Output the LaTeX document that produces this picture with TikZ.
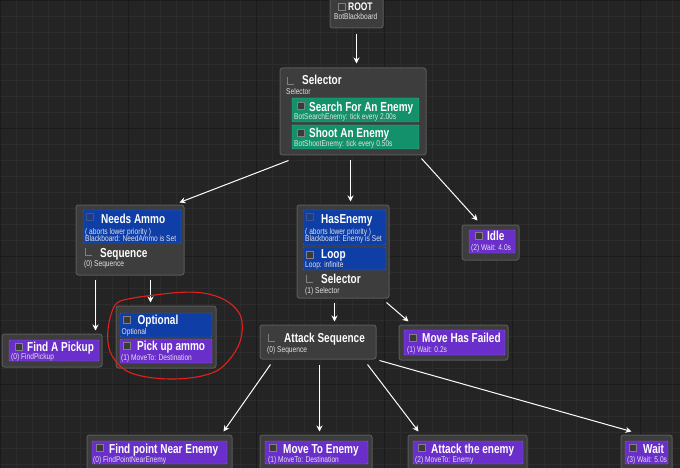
\documentclass[tikz,border=0pt]{standalone}
\usepackage{fontspec}
\setmainfont{Liberation Sans}
\newfontfamily\titlefam[FakeStretch=0.77]{Liberation Sans}
\newfontfamily\subfam[FakeStretch=0.79]{Liberation Sans}
\usetikzlibrary{fit,calc,arrows.meta}
\definecolor{bg}{HTML}{242424}
\definecolor{gridminor}{HTML}{2C2C2C}
\definecolor{gridmajor}{HTML}{1B1B1B}
\definecolor{nodefill}{HTML}{3D3D3D}
\definecolor{nodeline}{HTML}{595959}
\definecolor{cpurple}{HTML}{6A2FCB}
\definecolor{cpurpleline}{HTML}{8A5BDD}
\definecolor{cblue}{HTML}{0F3FA6}
\definecolor{cblueline}{HTML}{2D5FC4}
\definecolor{cgreen}{HTML}{12916A}
\definecolor{cgreenline}{HTML}{35B38A}
\definecolor{subgrey}{HTML}{E2E2E2}
\definecolor{iconfill}{HTML}{3A3A3A}
\definecolor{iconline}{HTML}{808080}
\definecolor{redmark}{HTML}{E3201E}
\tikzset{
  outerbox/.style={draw=nodeline, fill=nodefill, rounded corners=2.5pt, line width=1pt, inner sep=0pt},
  pbox/.style={draw=cpurpleline, fill=cpurple, rounded corners=1pt, line width=0.4pt, inner sep=0pt},
  bbox/.style={draw=cblueline, fill=cblue, rounded corners=1pt, line width=0.4pt, inner sep=0pt},
  gbox/.style={draw=cgreenline, fill=cgreen, rounded corners=1pt, line width=0.4pt, inner sep=0pt},
  icon/.style={fill=iconfill, draw=iconline, line width=0.5pt, minimum size=7pt, inner sep=0pt, anchor=north west},
  licon/.style={minimum size=7pt, inner sep=0pt, anchor=north west,
    path picture={\draw[iconline, line width=1.1pt] (path picture bounding box.north west) -- (path picture bounding box.south west) -- (path picture bounding box.south east);}},
  ttl/.style={font={\titlefam\bfseries\fontsize{13}{14}\selectfont}, text=white, anchor=base west, inner sep=0pt},
  sub/.style={font={\subfam\fontsize{8.4}{9}\selectfont}, text=subgrey, anchor=base west, inner sep=0pt},
  arr/.style={draw=white, line width=1pt, -{Stealth[length=6pt,width=6pt]}},
}
\begin{document}
\begin{tikzpicture}[x=1pt,y=-1pt]
\useasboundingbox (0,0) rectangle (680,468);
\fill[bg] (0,0) rectangle (680,468);
\foreach \gx in {0,16,...,680} \draw[gridminor, line width=0.4pt] (\gx,0) -- (\gx,468);
\foreach \gy in {0,16,...,468} \draw[gridminor, line width=0.4pt] (0,\gy) -- (680,\gy);
\foreach \gx in {0,128,...,680} \draw[gridmajor, line width=0.8pt] (\gx,0) -- (\gx,468);
\foreach \gy in {0,128,...,468} \draw[gridmajor, line width=0.8pt] (0,\gy) -- (680,\gy);

% ROOT
\node[outerbox, fit={(330,-4) (383,28)}] (root) {};
\node[icon] (rooti) at (338,3) {};
\node[ttl, font={\titlefam\bfseries\fontsize{11}{12}\selectfont}] (roott) at (348,10.5) {ROOT};
\node[sub] (roots) at (334,20) {BotBlackboard};

% Selector
\node[outerbox, fit={(280,68) (426,155)}] (sel) {};
\node[licon] (seli) at (287,77) {};
\node[ttl] (selt) at (302,85) {Selector};
\node[sub] (sels) at (286,94.5) {Selector};
\node[gbox, fit={(292,98) (419,122)}] (g1) {};
\node[icon] (g1i) at (297,102) {};
\node[ttl] (g1t) at (309,111.5) {Search For An Enemy};
\node[sub] (g1s) at (294,120) {BotSearchEnemy: tick every 2.00s};
\node[gbox, fit={(292,125) (419,149)}] (g2) {};
\node[icon] (g2i) at (297,129) {};
\node[ttl] (g2t) at (309,137.5) {Shoot An Enemy};
\node[sub] (g2s) at (294,146.5) {BotShootEnemy: tick every 0.50s};

% Needs Ammo / Sequence
\node[outerbox, fit={(76,205) (184,275)}] (needs) {};
\node[bbox, fit={(83,210) (181,243)}] (na) {};
\node[icon, opacity=0.35] (nai) at (86,213) {};
\node[ttl] (nat) at (101,223) {Needs Ammo};
\node[sub] (nas1) at (85,234) {( aborts lower priority )};
\node[sub] (nas2) at (85,241) {Blackboard: NeedAmmo is Set};
\node[licon] (seqi) at (85,248) {};
\node[ttl] (seqt) at (100,257) {Sequence};
\node[sub] (seqs) at (84,266.5) {(0) Sequence};

% HasEnemy / Loop / Selector
\node[outerbox, fit={(297,205) (389,298)}] (has) {};
\node[bbox, fit={(303,210) (386,245)}] (he) {};
\node[icon, opacity=0.35] (hei) at (306,213) {};
\node[ttl] (het) at (321,223.5) {HasEnemy};
\node[sub] (hes1) at (305,234) {( aborts lower priority )};
\node[sub] (hes2) at (305,241) {Blackboard: Enemy is Set};
\node[bbox, fit={(303,247) (386,270)}] (lp) {};
\node[icon] (lpi) at (306,251) {};
\node[ttl] (lpt) at (321,258.5) {Loop};
\node[sub] (lps) at (305,267.5) {Loop: infinite};
\node[licon] (hsi) at (306,275) {};
\node[ttl] (hst) at (321,283.5) {Selector};
\node[sub] (hss) at (305,293) {(1) Selector};

% Idle
\node[outerbox, fit={(462,225) (519,260)}] (idle) {};
\node[pbox, fit={(469,230) (515,253)}] (idp) {};
\node[icon] (idi) at (475,232) {};
\node[ttl] (idt) at (487,240.5) {Idle};
\node[sub] (ids) at (471,250) {(2) Wait: 4.0s};

% Find A Pickup
\node[outerbox, fit={(2,334) (102,367)}] (pick) {};
\node[pbox, fit={(9,340) (99,361)}] (pkp) {};
\node[icon] (pki) at (15,343) {};
\node[ttl] (pkt) at (27,351) {Find A Pickup};
\node[sub] (pks) at (11,359) {(0) FindPickup};

% Optional / Pick up ammo
\node[outerbox, fit={(116,306) (216,368)}] (opt) {};
\node[bbox, fit={(120,313) (212,337)}] (op) {};
\node[icon] (opi) at (123,316) {};
\node[ttl] (optt) at (137.5,324.5) {Optional};
\node[sub] (ops) at (121.5,334) {Optional};
\node[pbox, fit={(120,339) (212,363)}] (pu) {};
\node[icon] (pui) at (123,342) {};
\node[ttl] (put) at (137,350.5) {Pick up ammo};
\node[sub] (pus) at (121,360) {(1) MoveTo: Destination};

% Attack Sequence
\node[outerbox, fit={(260,325) (376,359)}] (atk) {};
\node[licon] (atki) at (268,334) {};
\node[ttl] (atkt) at (284,342.5) {Attack Sequence};
\node[sub] (atks) at (267,352.5) {(0) Sequence};

% Move Has Failed
\node[outerbox, fit={(399,325) (508,360)}] (mhf) {};
\node[pbox, fit={(404,330) (505,355)}] (mhp) {};
\node[icon] (mhi) at (409,334) {};
\node[ttl] (mht) at (422,342.5) {Move Has Failed};
\node[sub] (mhs) at (407,352.5) {(1) Wait: 0.2s};

% Bottom row
\node[outerbox, fit={(87,435) (232,474)}] (fpne) {};
\node[pbox, fit={(92,441) (227,464)}] (fpp) {};
\node[icon] (fpi) at (96,444) {};
\node[ttl] (fpt) at (109,453) {Find point Near Enemy};
\node[sub] (fps) at (93,462.5) {(0) FindPointNearEnemy};

\node[outerbox, fit={(260,435) (372,474)}] (mte) {};
\node[pbox, fit={(265,441) (368,464)}] (mtp) {};
\node[icon] (mti) at (269,444) {};
\node[ttl] (mtt) at (283,453) {Move To Enemy};
\node[sub] (mts) at (268,462.5) {(1) MoveTo: Destination};

\node[outerbox, fit={(408,435) (527,474)}] (ate) {};
\node[pbox, fit={(413,441) (523,464)}] (atp) {};
\node[icon] (ati) at (418,444) {};
\node[ttl] (att) at (431,453) {Attack the enemy};
\node[sub] (ats) at (415,462.5) {(2) MoveTo: Enemy};

\node[outerbox, fit={(621,435) (672,474)}] (wait) {};
\node[pbox, fit={(625,441) (668,464)}] (wtp) {};
\node[icon] (wti) at (629,444) {};
\node[ttl] (wtt) at (643,453) {Wait};
\node[sub] (wts) at (627,462.5) {(3) Wait: 5.0s};

% Connectors
\draw[arr] ($(root.south)+(0,6)$) -- ($(root.south |- sel.north)+(0,-4)$);
\draw[arr] ($(sel.south west)+(9,5)$) -- ($(needs.north east)+(-5,-2)$);
\draw[arr] ($(sel.south west)+(71,5)$) -- ($(has.north west)+(54,-3)$);
\draw[arr] ($(sel.south east)+(-5,3)$) -- ($(idle.north west)+(16,-4)$);
\draw[arr] ($(needs.south west)+(20,4)$) -- ($(pick.north west)+(94,-3)$);
\draw[arr] ($(needs.south west)+(75,4)$) -- ($(opt.north west)+(35,-3)$);
\draw[arr] ($(has.south west)+(38,4)$) -- ($(atk.north west)+(75,-3)$);
\draw[arr] ($(has.south east)+(-3,4)$) -- ($(mhf.north west)+(10,-3)$);
\draw[arr] ($(atk.south west)+(11,5)$) -- ($(fpne.north east)+(-9,-3)$);
\draw[arr] ($(atk.south west)+(60,5)$) -- ($(mte.north west)+(60,-3)$);
\draw[arr] ($(atk.south east)+(-9,5)$) -- ($(ate.north west)+(11,-3)$);
\draw[arr] ($(atk.south east)+(3,1)$) -- ($(wait.north west)+(11,-3)$);

% Red hand-drawn mark
\draw[redmark, line width=1.1pt] plot[smooth cycle, tension=0.6] coordinates {
  (116.7,303.3) (131.7,298.3) (155,295) (181.7,292.3) (205,293.3) (225,300)
  (238.3,311.7) (242.3,325) (240,341.7) (231.7,356.7) (218.3,370) (198.3,376.7)
  (171.7,379) (145,376.7) (125,370) (111.7,355) (107.7,338) (110,318.3)};
\end{tikzpicture}
\end{document}
